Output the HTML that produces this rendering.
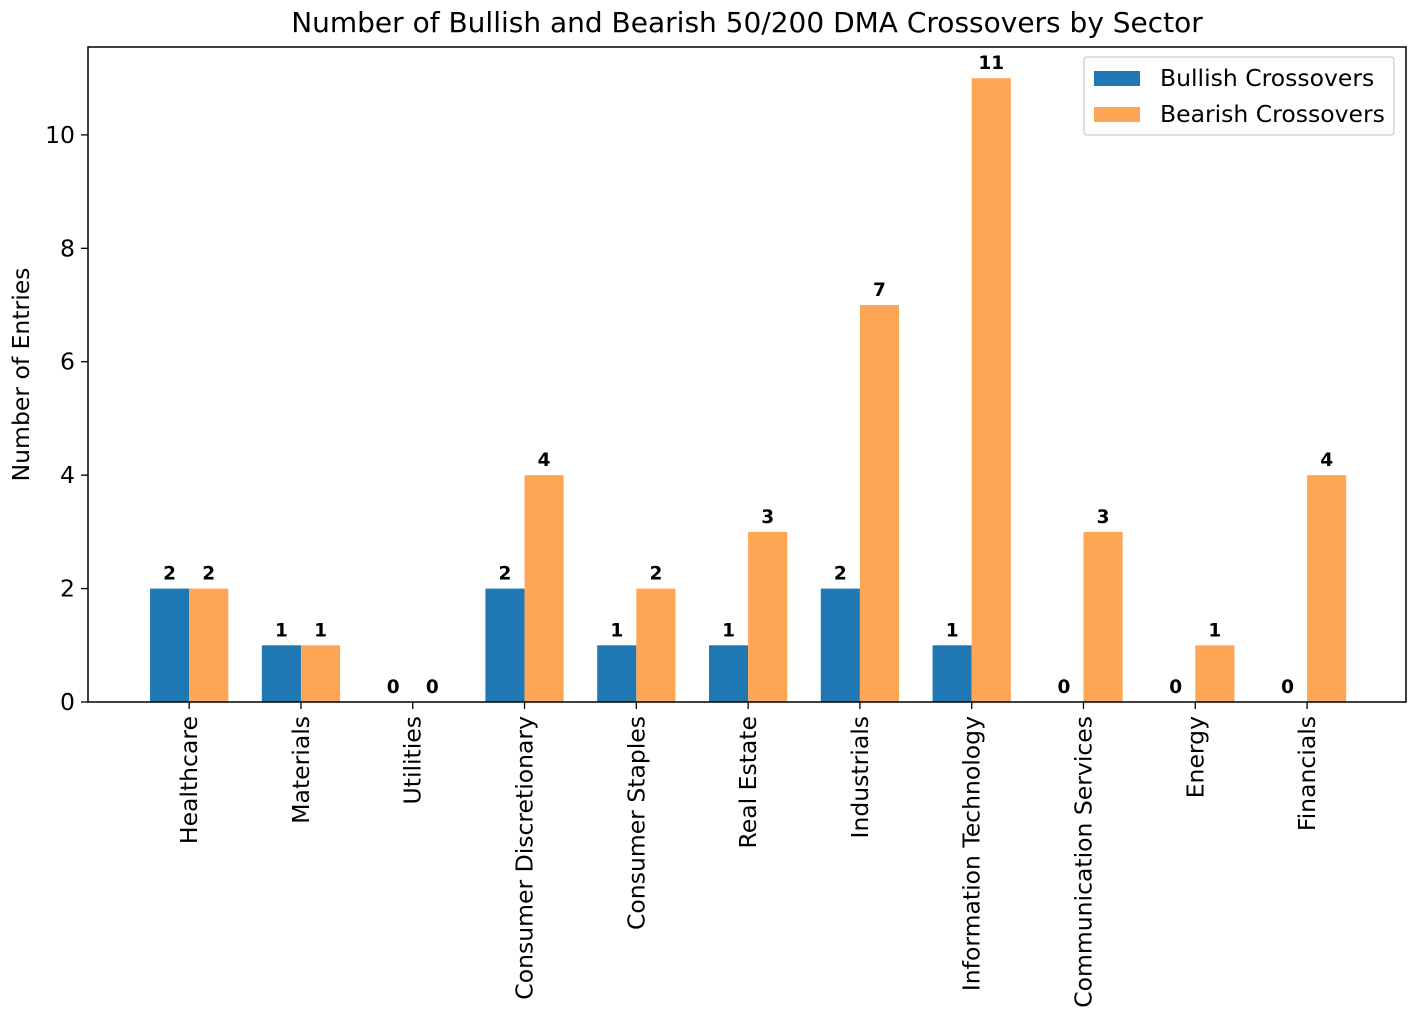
<!DOCTYPE html>
<html><head><meta charset="utf-8"><style>
html,body{margin:0;padding:0;background:#fff;}
svg text{font-family:"DejaVu Sans","Liberation Sans",sans-serif;}
</style></head><body>
<svg id="chart" width="1412" height="1014" xmlns="http://www.w3.org/2000/svg"></svg>
<script>
const categories = ["Healthcare","Materials","Utilities","Consumer Discretionary","Consumer Staples","Real Estate","Industrials","Information Technology","Communication Services","Energy","Financials"];
const bullish = [2,1,0,2,1,1,2,1,0,0,0];
const bearish = [2,1,0,4,2,3,7,11,3,1,4];
const yTicks = [0,2,4,6,8,10];

const NS = "http://www.w3.org/2000/svg";
const svg = document.getElementById('chart');
const L = 88, R = 1406, T = 47, B = 702;
const xMin = -0.905, xMax = 10.885, yMax = 11.55;
const xs = v => L + (v - xMin) / (xMax - xMin) * (R - L);
const ys = v => B - v / yMax * (B - T);
const bw = 0.35;
function el(tag, attrs, parent) {
  const e = document.createElementNS(NS, tag);
  for (const k in attrs) e.setAttribute(k, attrs[k]);
  (parent || svg).appendChild(e);
  return e;
}

const title = el('text', {x: (L+R)/2, y: 32, 'text-anchor': 'middle', 'font-size': 28, fill: '#000'});
title.textContent = "Number of Bullish and Bearish 50/200 DMA Crossovers by Sector";



const bars = el('g', {});


categories.forEach((c, i) => {
  const x1 = xs(i - bw), x2 = xs(i), x3 = xs(i + bw);
  const b1 = el('rect', {x: x1, y: ys(bullish[i]), width: x2 - x1, height: B - ys(bullish[i]), fill: '#1f77b4'}, bars);
  
  
  const b2 = el('rect', {x: x2, y: ys(bearish[i]), width: x3 - x2, height: B - ys(bearish[i]), fill: '#ffa556'}, bars);
  
  
  const l1 = el('text', {x: (x1 + x2)/2, y: ys(bullish[i]) - 9, 'text-anchor': 'middle', 'font-size': 18.5, 'font-weight': 'bold'});
  l1.textContent = bullish[i];
  
  
  const l2 = el('text', {x: (x2 + x3)/2, y: ys(bearish[i]) - 9, 'text-anchor': 'middle', 'font-size': 18.5, 'font-weight': 'bold'});
  l2.textContent = bearish[i];
  
  
  const tx = xs(i);
  el('line', {x1: tx, x2: tx, y1: B, y2: B + 7, stroke: '#000', 'stroke-width': 1.3});
  const t = el('text', {x: tx + 8, y: B + 14, 'text-anchor': 'end', 'font-size': 23.5, transform: `rotate(-90 ${tx + 8} ${B + 14})`});
  t.textContent = c;
  
  
});

yTicks.forEach(v => {
  const y = ys(v);
  el('line', {x1: L - 7, x2: L, y1: y, y2: y, stroke: '#000', 'stroke-width': 1.3});
  const t = el('text', {x: L - 13, y: y + 8, 'text-anchor': 'end', 'font-size': 23.5});
  t.textContent = v;
  
  
});

const frame = el('rect', {x: L, y: T, width: R - L, height: B - T, fill: 'none', stroke: '#000', 'stroke-width': 1.5});



const yl = el('text', {x: 29, y: (T + B)/2, 'text-anchor': 'middle', 'font-size': 23.5, transform: `rotate(-90 29 ${(T+B)/2})`});
yl.textContent = "Number of Entries";



const lg = el('g', {});


el('rect', {x: 1084, y: 57, width: 310, height: 78, rx: 3, fill: '#fff', 'fill-opacity': 0.8, stroke: '#ccc', 'stroke-width': 1.3}, lg);
[["Bullish Crossovers", '#1f77b4', 78], ["Bearish Crossovers", '#ffa556', 114]].forEach(([name, col, y]) => {
  const sw = el('rect', {x: 1094, y: y - 7, width: 46, height: 15, fill: col}, lg);
  
  
  const t = el('text', {x: 1160, y: y + 8, 'font-size': 23.5}, lg);
  t.textContent = name;
  
  
});
</script>
</body></html>
